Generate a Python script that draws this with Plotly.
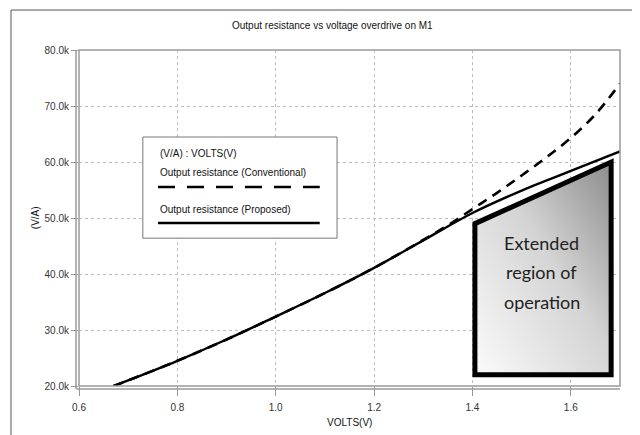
import base64
import plotly.graph_objects as go

# ---- data ----
volts_conv = [0.67, 0.70, 0.80, 0.90, 1.00, 1.10, 1.20, 1.30, 1.35, 1.40, 1.45, 1.50, 1.55, 1.60, 1.65, 1.70]
res_conv = [20.0, 21.0, 24.5, 28.3, 32.4, 36.6, 41.1, 46.1, 48.7, 51.6, 54.5, 57.6, 60.8, 64.3, 68.5, 74.0]
volts_prop = [0.67, 0.70, 0.80, 0.90, 1.00, 1.10, 1.20, 1.30, 1.40, 1.50, 1.60, 1.70]
res_prop = [20.0, 21.0, 24.5, 28.3, 32.4, 36.6, 41.1, 46.0, 50.9, 54.9, 58.4, 61.9]
res_conv = [v * 1000 for v in res_conv]
res_prop = [v * 1000 for v in res_prop]

x_ticks = [0.6, 0.8, 1.0, 1.2, 1.4, 1.6]
x_ticktext = ["0.6", "0.8", "1.0", "1.2", "1.4", "1.6"]
y_ticks = [20000, 30000, 40000, 50000, 60000, 70000, 80000]
y_ticktext = ["20.0k", "30.0k", "40.0k", "50.0k", "60.0k", "70.0k", "80.0k"]

region_x = [1.405, 1.682, 1.682, 1.405]
region_y = [49000, 60000, 22000, 22000]
region_label = ["Extended", "region of", "operation"]
region_label_y = [45500, 40300, 35000]

FONT = "Liberation Sans, Arial, sans-serif"
GRID = "#bdbdbd"
FRAME = "#9a9a9a"

fig = go.Figure()
fig.add_trace(go.Scatter(x=volts_conv, y=res_conv, mode="lines", line=dict(color="black", width=2.6, dash="10px,7px", shape="spline"), name="Output resistance (Conventional)"))
fig.add_trace(go.Scatter(x=volts_prop, y=res_prop, mode="lines", line=dict(color="black", width=2.4, shape="spline"), name="Output resistance (Proposed)"))

# ---- gradient filled region (as SVG image) ----
xmin, xmax = min(region_x), max(region_x)
ymin, ymax = min(region_y), max(region_y)
pts = " ".join(f"{(x - xmin) / (xmax - xmin) * 100:.2f},{(ymax - y) / (ymax - ymin) * 100:.2f}" for x, y in zip(region_x, region_y))
svg = f'''<svg xmlns="http://www.w3.org/2000/svg" viewBox="0 0 100 100" preserveAspectRatio="none" width="100" height="100">
<defs><linearGradient id="g" x1="0" y1="1" x2="1" y2="0">
<stop offset="0" stop-color="#fbfbfb"/><stop offset="0.55" stop-color="#d4d4d4"/><stop offset="1" stop-color="#8c8c8c"/></linearGradient></defs>
<polygon points="{pts}" fill="url(#g)"/></svg>'''
src = "data:image/svg+xml;base64," + base64.b64encode(svg.encode()).decode()
fig.add_layout_image(dict(source=src, xref="x", yref="y", x=xmin, y=ymax, sizex=xmax - xmin, sizey=ymax - ymin,
                          xanchor="left", yanchor="top", sizing="stretch", layer="above"))

path = "M " + " L ".join(f"{x},{y}" for x, y in zip(region_x, region_y)) + " Z"
shapes = [dict(type="path", path=path, xref="x", yref="y", line=dict(color="black", width=5), layer="above")]

# plot frame and offset axis lines
shapes.append(dict(type="rect", xref="paper", yref="paper", x0=0, x1=1, y0=0, y1=1, line=dict(color=FRAME, width=1.5), layer="above"))
shapes.append(dict(type="line", xref="paper", yref="paper", x0=-0.005, x1=1.0, y0=-0.009, y1=-0.009, line=dict(color=FRAME, width=1.5)))
shapes.append(dict(type="line", xref="paper", yref="paper", x0=-0.0055, x1=-0.0055, y0=-0.009, y1=1.0, line=dict(color=FRAME, width=1.5)))
# outer frame
shapes.append(dict(type="line", xref="paper", yref="paper", x0=-0.1257, x1=1.05, y0=1.119, y1=1.119, line=dict(color="#555", width=1)))
shapes.append(dict(type="line", xref="paper", yref="paper", x0=-0.1257, x1=-0.1257, y0=1.119, y1=-0.16, line=dict(color="#555", width=1)))
# legend box
shapes.append(dict(type="rect", xref="paper", yref="paper", x0=0.118, x1=0.477, y0=0.440, y1=0.741, line=dict(color="#777", width=1), fillcolor="white", layer="above"))
shapes.append(dict(type="line", xref="paper", yref="paper", x0=0.146, x1=0.445, y0=0.592, y1=0.592, line=dict(color="black", width=2.5, dash="17px,12px"), layer="above"))
shapes.append(dict(type="line", xref="paper", yref="paper", x0=0.146, x1=0.445, y0=0.485, y1=0.485, line=dict(color="black", width=2.5), layer="above"))

def ann(text, x, y, xanchor="center", **kw):
    d = dict(text=text, xref="paper", yref="paper", x=x, y=y, xanchor=xanchor, yanchor="middle", showarrow=False,
             font=dict(size=10, color="#111", family=FONT))
    d.update(kw)
    return d

annotations = [
    ann("Output resistance vs voltage overdrive on M1", 0.468, 1.074),
    ann("VOLTS(V)", 0.5, -0.110),
    ann("(V/A)", -0.081, 0.5, textangle=-90),
    ann("(V/A) : VOLTS(V)", 0.146, 0.693, xanchor="left"),
    ann("Output resistance (Conventional)", 0.146, 0.634, xanchor="left"),
    ann("Output resistance (Proposed)", 0.146, 0.524, xanchor="left"),
]
cx = (xmin + xmax) / 2 - 0.003
for t, yy in zip(region_label, region_label_y):
    annotations.append(dict(text=t, x=cx, y=yy, xref="x", yref="y", xanchor="center", yanchor="middle", showarrow=False,
                            font=dict(size=18, color="#222", family="Lato, sans-serif")))

# the page body adds an 8px offset, so the figure is 8px smaller and margins shifted accordingly
fig.update_layout(
    width=632, height=427,
    margin=dict(l=71, r=20, t=42, b=49),
    paper_bgcolor="white", plot_bgcolor="white",
    showlegend=False,
    shapes=shapes, annotations=annotations,
    font=dict(family=FONT, size=10, color="#333"),
)
fig.update_xaxes(range=[0.6, 1.7], tickvals=x_ticks, ticktext=x_ticktext, showgrid=True, gridcolor=GRID, griddash="dot", gridwidth=1,
                 ticks="outside", ticklen=9, tickcolor=FRAME, ticklabelstandoff=3, showline=False, zeroline=False,
                 tickfont=dict(size=10, color="#333"))
fig.update_yaxes(range=[20000, 80000], tickvals=y_ticks, ticktext=y_ticktext, showgrid=True, gridcolor=GRID, griddash="dot", gridwidth=1,
                 ticks="outside", ticklen=7, tickcolor=FRAME, showline=False, zeroline=False,
                 tickfont=dict(size=10, color="#333"))

fig.write_html("out.html")
